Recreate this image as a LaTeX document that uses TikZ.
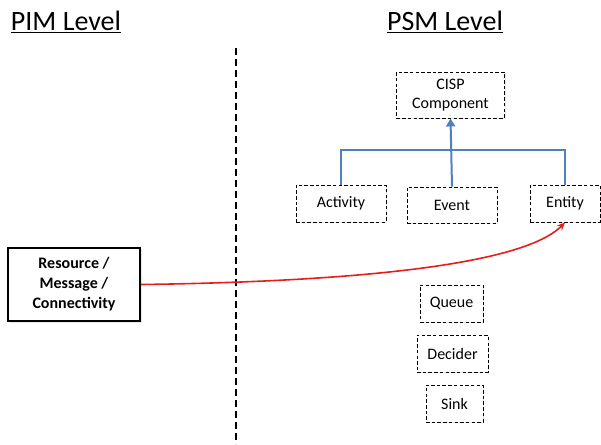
\documentclass[tikz,border=0pt]{standalone}
\usepackage{fontspec}
\setmainfont{Carlito}
\usetikzlibrary{arrows.meta,shadows}
\definecolor{linkblue}{RGB}{79,129,189}
\definecolor{linkred}{RGB}{228,30,28}
\tikzset{
  title/.style={font=\fontsize{28}{30}\selectfont, inner sep=0pt},
  psmbox/.style={draw, dashed, line width=0.9pt, dash pattern=on 3.5pt off 2.2pt,
    fill=white, inner sep=0pt, align=center,
    font=\fontsize{16}{19}\selectfont,
    drop shadow={opacity=0.18, shadow xshift=1.2pt, shadow yshift=-1.2pt}},
  pimbox/.style={draw, line width=1.8pt, fill=white, inner sep=0pt, align=center,
    font=\bfseries\fontsize{16}{20}\selectfont,
    drop shadow={opacity=0.2, shadow xshift=1.5pt, shadow yshift=-1.5pt}},
  divider/.style={line width=1.8pt, dash pattern=on 7pt off 4pt},
  tree/.style={linkblue, line width=2pt},
  mapping/.style={linkred, line width=1.6pt, -{Stealth[length=8pt,width=7pt]}}
}
\begin{document}
\begin{tikzpicture}[x=1pt,y=-1pt]
\useasboundingbox (0,0) rectangle (601,444);

% level headings
\node[title] (pim) at (66,22) {\underline{PIM Level}};
\node[title] (psm) at (445,22) {\underline{PSM Level}};

% separator between the two levels
\coordinate (divtop) at (236,48);
\coordinate (divbot) at (236,444);
\draw[divider] (divtop) -- (divbot);

% PSM components
\node[psmbox, minimum width=108pt, minimum height=46pt] (cisp) at (450.5,95) {CISP\\Component};
\node[psmbox, minimum width=90pt, minimum height=37pt] (activity) at (341,203.5) {Activity};
\node[psmbox, minimum width=90pt, minimum height=36pt] (event) at (452,205) {Event};
\node[psmbox, minimum width=70pt, minimum height=37pt] (entity) at (565,203.5) {Entity};
\node[psmbox, minimum width=63pt, minimum height=37pt] (queue) at (451.5,303.5) {Queue};
\node[psmbox, minimum width=71pt, minimum height=37pt] (decider) at (452.5,353.5) {Decider};
\node[psmbox, minimum width=57pt, minimum height=37pt] (sink) at (454.5,403.5) {Sink};

% PIM element
\node[pimbox, minimum width=132pt, minimum height=73pt] (resource) at (74,284.5) {Resource /\\Message /\\Connectivity};

% generalisation tree
\coordinate (bar) at (452,150);
\draw[tree] (activity.north) |- (bar) -| (entity.north);
\draw[tree, -{Triangle[length=8pt,width=9pt]}] (event.north) -- (cisp.south);

% PIM to PSM mapping
\draw[mapping] (resource.east) .. controls (330,282) and (520,268) .. (entity.south);
\end{tikzpicture}
\end{document}
